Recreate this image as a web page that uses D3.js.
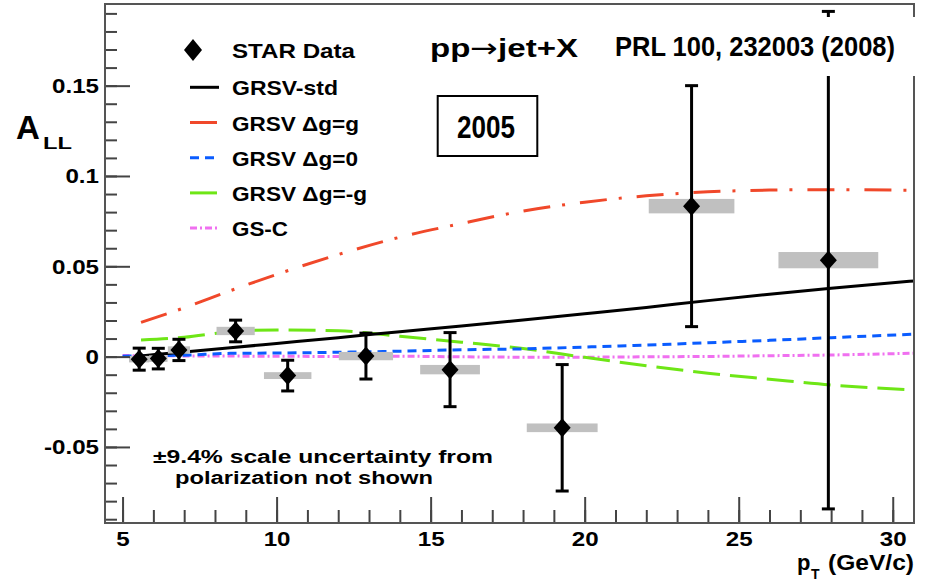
<!DOCTYPE html>
<html>
<head>
<meta charset="utf-8">
<script src="https://cdn.jsdelivr.net/npm/d3@7"></script>
<style>
  body { margin: 0; background: #fff; }
  svg text { font-family: 'Liberation Sans', Arial, sans-serif; font-weight: bold; fill: #000; }
</style>
</head>
<body>
<div id="chart"></div>
<script>
// STAR 2005 inclusive jet A_LL points
var ptVals   = [5.54, 6.16, 6.83, 8.67, 10.36, 12.90, 15.63, 19.27, 23.47, 27.91];
var allVals  = [-0.0014, -0.0011, 0.0037, 0.0142, -0.0105, 0.0003, -0.0072, -0.0394, 0.0833, 0.0534];
var statErr  = [0.0061, 0.0057, 0.0059, 0.0060, 0.0085, 0.0127, 0.0205, 0.0350, 0.0667, 0.1377];
var binHalf  = [0.33, 0.30, 0.36, 0.62, 0.77, 0.88, 0.97, 1.15, 1.39, 1.62];
var sysErr   = [0.0018, 0.0018, 0.0020, 0.0023, 0.0019, 0.0023, 0.0026, 0.0024, 0.0040, 0.0045];

// theory curves on a common pT grid (null = not drawn)
var theoryPt = [5.0, 5.6, 7, 8.5, 10, 12, 14, 16, 18, 20, 22, 24, 26, 28, 30.7];
var grsvStd  = [null, 0.0004, 0.0026, 0.0049, 0.0073, 0.0105, 0.0138, 0.0170, 0.0203, 0.0237, 0.0272, 0.0310, 0.0345, 0.0378, 0.0419];
var grsvMax  = [null, 0.0190, 0.0270, 0.0365, 0.0455, 0.0565, 0.0661, 0.0737, 0.0806, 0.0855, 0.0890, 0.0912, 0.0922, 0.0924, 0.0921];
var grsvZero = [0.0002, 0.0004, 0.0008, 0.0018, 0.0020, 0.0024, 0.0030, 0.0038, 0.0043, 0.0053, 0.0064, 0.0077, 0.0090, 0.0105, 0.0124];
var grsvMin  = [null, 0.0092, 0.0107, 0.0138, 0.0148, 0.0143, 0.0113, 0.0080, 0.0045, -0.0004, -0.0050, -0.0092, -0.0125, -0.0157, -0.0184];
var gsC      = [0.0006, 0.0005, 0.0004, 0.0003, 0.0002, 0.0001, 0.0002, -0.0001, -0.0003, -0.0003, -0.0001, 0.0001, 0.0005, 0.0009, 0.0019];

var curveNames = ['GRSV-std', 'GRSV \u0394g=g', 'GRSV \u0394g=0', 'GRSV \u0394g=-g', 'GS-C'];

// axis ticks
var xMajor = [5, 10, 15, 20, 25, 30];
var xMinor = d3.range(5, 31, 1);
var yMajor = [-0.05, 0, 0.05, 0.1, 0.15];
var yLabels = ['-0.05', '0', '0.05', '0.1', '0.15'];
var yMinor = d3.range(-9, 20, 1).map(function(d) { return d / 100; });

var svgWidth = 929, svgHeight = 581;
var frame = { left: 105, right: 914, top: 4, bottom: 523 };

var svg = d3.select('#chart').append('svg')
    .attr('width', svgWidth)
    .attr('height', svgHeight);

svg.append('rect').attr('width', svgWidth).attr('height', svgHeight).attr('fill', '#fff');

var x = d3.scaleLinear().domain([4.43, 30.69]).range([frame.left, frame.right]);
var y = d3.scaleLinear().domain([-0.0921, 0.1952]).range([frame.bottom, frame.top]);

// stretch text horizontally, the source figure is a bit wide
function stretch(sel, k) {
    sel.each(function() {
        var w = this.getComputedTextLength();
        d3.select(this).attr('textLength', w * k).attr('lengthAdjust', 'spacingAndGlyphs');
    });
}

// curves
var styles = [
    { vals: grsvStd,  color: '#000000', dash: null },
    { vals: grsvMax,  color: '#f0482a', dash: '27,12,3,15' },
    { vals: grsvZero, color: '#0a5cff', dash: '9,6' },
    { vals: grsvMin,  color: '#6ee616', dash: '27,10' },
    { vals: gsC,      color: '#f070f0', dash: '7,3,2,3' }
];

var line = d3.line()
    .defined(function(d) { return d[1] !== null; })
    .x(function(d) { return x(d[0]); })
    .y(function(d) { return y(d[1]); })
    .curve(d3.curveMonotoneX);

var plot = svg.append('g');
styles.slice().reverse().forEach(function(s) {
    plot.append('path')
        .datum(theoryPt.map(function(p, i) { return [p, s.vals[i]]; }))
        .attr('d', line)
        .attr('fill', 'none')
        .attr('stroke', s.color)
        .attr('stroke-width', 3)
        .attr('stroke-dasharray', s.dash);
});

var points = ptVals.map(function(p, i) {
    return { pt: p, a: allVals[i], err: statErr[i], bw: binHalf[i], sys: sysErr[i] };
});

// systematic boxes
plot.selectAll('rect.sys')
    .data(points)
    .enter().append('rect')
    .attr('class', 'sys')
    .attr('x', function(d) { return x(d.pt - d.bw); })
    .attr('width', function(d) { return x(d.pt + d.bw) - x(d.pt - d.bw); })
    .attr('y', function(d) { return y(d.a + d.sys); })
    .attr('height', function(d) { return y(d.a - d.sys) - y(d.a + d.sys); })
    .attr('fill', '#c0c0c0');

// error bars
var eb = plot.selectAll('g.eb').data(points).enter().append('g').attr('class', 'eb')
    .attr('stroke', '#000').attr('stroke-width', 3);
eb.append('line')
    .attr('x1', function(d) { return x(d.pt); })
    .attr('x2', function(d) { return x(d.pt); })
    .attr('y1', function(d) { return y(d.a + d.err); })
    .attr('y2', function(d) { return y(d.a - d.err); });
[1, -1].forEach(function(s) {
    eb.append('line')
        .attr('x1', function(d) { return x(d.pt) - 6.5; })
        .attr('x2', function(d) { return x(d.pt) + 6.5; })
        .attr('y1', function(d) { return y(d.a + s * d.err); })
        .attr('y2', function(d) { return y(d.a + s * d.err); });
});

function diamond(cx, cy, w, h) {
    return 'M' + cx + ',' + (cy - h) + 'L' + (cx + w) + ',' + cy + 'L' + cx + ',' + (cy + h) + 'L' + (cx - w) + ',' + cy + 'Z';
}
plot.selectAll('path.mk')
    .data(points)
    .enter().append('path')
    .attr('class', 'mk')
    .attr('d', function(d) { return diamond(x(d.pt), y(d.a), 8.5, 9.5); })
    .attr('fill', '#000');

// axes
var axisColor = '#444';
var yAxisMinor = svg.append('g')
    .attr('transform', 'translate(' + frame.left + ',0)')
    .call(d3.axisLeft(y).tickValues(yMinor).tickSize(-12).tickFormat(''));
var yAxis = svg.append('g')
    .attr('transform', 'translate(' + frame.left + ',0)')
    .call(d3.axisLeft(y).tickValues(yMajor).tickSize(-25).tickPadding(6)
        .tickFormat(function(d, i) { return yLabels[i]; }));
var xAxisMinor = svg.append('g')
    .attr('transform', 'translate(0,' + frame.bottom + ')')
    .call(d3.axisBottom(x).tickValues(xMinor).tickSize(-13).tickFormat(''));
var xAxis = svg.append('g')
    .attr('transform', 'translate(0,' + frame.bottom + ')')
    .call(d3.axisBottom(x).tickValues(xMajor).tickSize(-26).tickPadding(8).tickFormat(d3.format('d')));

[yAxisMinor, yAxis, xAxisMinor, xAxis].forEach(function(g) {
    g.select('.domain').remove();
    g.selectAll('.tick line').attr('stroke', axisColor).attr('stroke-width', 2);
});
yAxis.selectAll('text').attr('font-size', 21).attr('fill', '#000').attr('font-family', null);
xAxis.selectAll('text').attr('font-size', 21).attr('fill', '#000').attr('font-family', null);
stretch(yAxis.selectAll('text'), 1.15);
stretch(xAxis.selectAll('text'), 1.15);

// frame
svg.append('rect')
    .attr('x', frame.left).attr('y', frame.top)
    .attr('width', frame.right - frame.left).attr('height', frame.bottom - frame.top)
    .attr('fill', 'none').attr('stroke', '#555').attr('stroke-width', 2);

// axis titles
svg.append('text').attr('x', 16).attr('y', 139).attr('font-size', 33).text('A');
svg.append('text').attr('x', 43).attr('y', 149).attr('font-size', 17)
    .attr('textLength', 29).attr('lengthAdjust', 'spacingAndGlyphs').text('LL');
svg.append('text').attr('x', 797).attr('y', 570).attr('font-size', 22).text('p');
svg.append('text').attr('x', 811).attr('y', 579).attr('font-size', 14).text('T');
svg.append('text').attr('x', 828).attr('y', 570).attr('font-size', 22)
    .attr('textLength', 86).attr('lengthAdjust', 'spacingAndGlyphs').text('(GeV/c)');

// legend
var legend = svg.append('g');
legend.append('path').attr('d', diamond(193, 50, 9, 11)).attr('fill', '#000');
legend.append('text').attr('x', 232).attr('y', 57.5).attr('font-size', 21)
    .attr('textLength', 123).attr('lengthAdjust', 'spacingAndGlyphs').text('STAR Data');
var legendW = [106, 127, 126, 135, 56];
styles.forEach(function(s, i) {
    var ly = 87.3 + i * 35.2;
    legend.append('line')
        .attr('x1', 190).attr('x2', 219).attr('y1', ly).attr('y2', ly)
        .attr('stroke', s.color).attr('stroke-width', 3).attr('stroke-dasharray', s.dash);
    legend.append('text').attr('x', 232).attr('y', ly + 8).attr('font-size', 21)
        .attr('textLength', legendW[i]).attr('lengthAdjust', 'spacingAndGlyphs').text(curveNames[i]);
});

// annotations
var ppText = svg.append('text').attr('x', 430).attr('y', 57).attr('font-size', 26)
    .attr('textLength', 148).attr('lengthAdjust', 'spacingAndGlyphs');
ppText.append('tspan').text('pp');
ppText.append('tspan').style('font-family', "'DejaVu Sans', sans-serif").style('font-weight', 'normal').text('\u2192');
ppText.append('tspan').text('jet+X');

svg.append('rect').attr('x', 437.7).attr('y', 96).attr('width', 99.6).attr('height', 60)
    .attr('fill', '#fff').attr('stroke', '#000').attr('stroke-width', 2);
svg.append('text').attr('x', 457).attr('y', 138).attr('font-size', 31)
    .style('font-family', "'Liberation Sans Narrow', 'Liberation Sans', Arial, sans-serif")
    .attr('textLength', 58).attr('lengthAdjust', 'spacingAndGlyphs').text('2005');

svg.append('rect').attr('x', 606).attr('y', 17).attr('width', 312).attr('height', 59).attr('fill', '#fff');
svg.append('text').attr('x', 615).attr('y', 56).attr('font-size', 28)
    .style('font-family', "'Liberation Sans Narrow', 'Liberation Sans', Arial, sans-serif")
    .attr('textLength', 280).attr('lengthAdjust', 'spacingAndGlyphs').text('PRL 100, 232003 (2008)');

svg.append('text').attr('x', 153).attr('y', 463).attr('font-size', 18)
    .attr('textLength', 340).attr('lengthAdjust', 'spacingAndGlyphs').text('\u00b19.4% scale uncertainty from');
svg.append('text').attr('x', 175).attr('y', 484).attr('font-size', 18)
    .attr('textLength', 258).attr('lengthAdjust', 'spacingAndGlyphs').text('polarization not shown');
</script>
</body>
</html>
